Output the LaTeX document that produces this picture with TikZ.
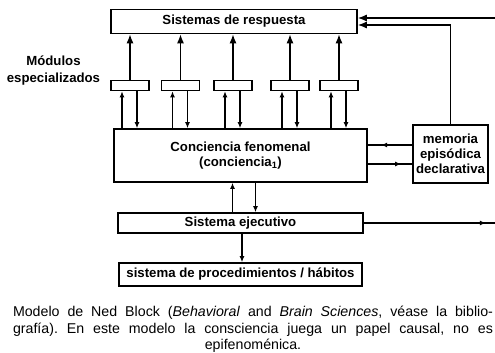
\documentclass[tikz,border=0pt]{standalone}
\usepackage{fontspec}
\setmainfont{Liberation Sans}
\usetikzlibrary{arrows.meta,decorations.markings}
\frenchspacing
\begin{document}
\begin{tikzpicture}[x=1pt,y=-1pt,line width=1.3pt,
	box/.style={draw, line width=1.6pt, inner sep=0pt, align=center,
		font=\bfseries\fontsize{13.2}{15}\selectfont},
	arr/.style={-{Latex[length=6pt,width=5pt]}},
	bigarr/.style={-{Latex[length=9pt,width=7pt]}},
	midarr/.style={postaction={decorate}, decoration={markings,
		mark=at position #1 with {\arrow{Latex[length=6pt,width=5pt]}}}}]
	\useasboundingbox (0,0) rectangle (495,353);
	\node (SR)  at (234, 21.5)   [box, minimum width=246pt, minimum height=24pt]	{Sistemas de respuesta};
	\node (M1)  at (130, 85.5)   [box, minimum width=38pt, minimum height=10pt]	{};
	\node (M2)  at (180.5, 85.5) [box, minimum width=38pt, minimum height=10pt]	{};
	\node (M3)  at (233, 85.5)   [box, minimum width=38pt, minimum height=10pt]	{};
	\node (M4)  at (290, 85.5)   [box, minimum width=38pt, minimum height=10pt]	{};
	\node (M5)  at (339, 85.5)   [box, minimum width=38pt, minimum height=10pt]	{};
	\node (ME)  at (53.5, 70.5)  [align=center, font=\bfseries\fontsize{13.2}{17}\selectfont]	{Módulos\\especializados};
	\node (CF)  at (240.5, 155.5) [box, minimum width=253pt, minimum height=53pt]	{Conciencia fenomenal\\(conciencia\textsubscript{1})};
	\node (MED) at (450.5, 154)  [box, minimum width=75pt, minimum height=58pt]	{memoria\\episódica\\declarativa};
	\node (SE)  at (240.5, 223)  [box, minimum width=245pt, minimum height=20pt]	{\raisebox{-3pt}{Sistema ejecutivo}};
	\node (SP)  at (240.5, 274.5) [box, minimum width=243pt, minimum height=23pt]	{sistema de procedimientos / hábitos};
	\coordinate (inR)  at (495, 18);
	\coordinate (outR) at (495, 223);
	\draw[bigarr] (M1.north) -- (M1.north |- SR.south);
	\draw[bigarr] (M2.north) -- (M2.north |- SR.south);
	\draw[bigarr] (M3.north) -- (M3.north |- SR.south);
	\draw[bigarr] (M4.north) -- (M4.north |- SR.south);
	\draw[bigarr] (M5.north) -- (M5.north |- SR.south);
	\draw[arr] ([xshift=-8pt]M1.south |- CF.north) -- ([xshift=-8pt]M1.south);
	\draw[arr] ([xshift=7pt]M1.south) -- ([xshift=7pt]M1.south |- CF.north);
	\draw[arr] ([xshift=-8pt]M2.south |- CF.north) -- ([xshift=-8pt]M2.south);
	\draw[arr] ([xshift=7pt]M2.south) -- ([xshift=7pt]M2.south |- CF.north);
	\draw[arr] ([xshift=-8pt]M3.south |- CF.north) -- ([xshift=-8pt]M3.south);
	\draw[arr] ([xshift=7pt]M3.south) -- ([xshift=7pt]M3.south |- CF.north);
	\draw[arr] ([xshift=-8pt]M4.south |- CF.north) -- ([xshift=-8pt]M4.south);
	\draw[arr] ([xshift=7pt]M4.south) -- ([xshift=7pt]M4.south |- CF.north);
	\draw[arr] ([xshift=-8pt]M5.south |- CF.north) -- ([xshift=-8pt]M5.south);
	\draw[arr] ([xshift=7pt]M5.south) -- ([xshift=7pt]M5.south |- CF.north);
	\draw[midarr=0.7] ([yshift=9pt]MED.west) -- ([yshift=9pt]MED.west -| CF.east);
	\draw[midarr=0.75] ([yshift=-10pt]CF.east |- MED.west) -- ([yshift=-10pt]MED.west);
	\draw[arr] ([xshift=-8pt]SE.north) -- ([xshift=-8pt]SE.north |- CF.south);
	\draw[arr] ([xshift=15pt]CF.south) -- ([xshift=15pt]CF.south |- SE.north);
	\draw[arr] ([xshift=1.5pt]SE.south) -- ([xshift=1.5pt]SP.north);
	\draw[midarr=0.93] (SE.east) -- (outR);
	\draw[bigarr] (inR) -- (inR -| SR.east);
	\draw[bigarr] (MED.north) |- ([yshift=-3.5pt]SR.east);
	\node (CAP) at (253, 329.5) [align=center, inner sep=0pt,
		font=\fontsize{14.2}{16.5}\selectfont]
		{\makebox[480pt][s]{Modelo de Ned Block (\textit{Behavioral} and \textit{Brain Sciences}, véase la biblio-}\\
		\makebox[480pt][s]{grafía). En este modelo la consciencia juega un papel causal, no es}\\
		epifenoménica.};
\end{tikzpicture}
\end{document}
